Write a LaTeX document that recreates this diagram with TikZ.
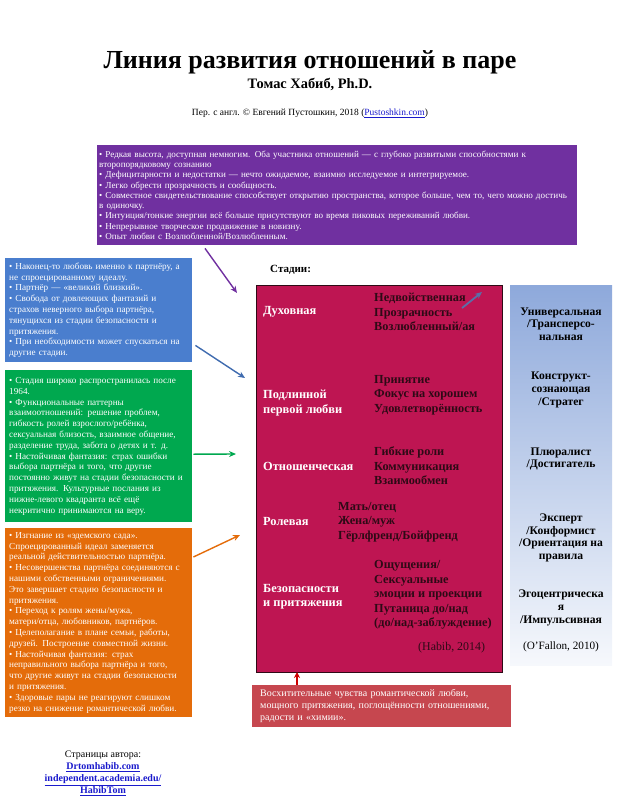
\documentclass[tikz,border=0pt]{standalone}
\usepackage{fontspec}
\setmainfont{Liberation Serif}
\usetikzlibrary{arrows.meta}

\definecolor{spiritpurple}{HTML}{7030A0}
\definecolor{lovblue}{HTML}{4A7ECE}
\definecolor{relgreen}{HTML}{00A84F}
\definecolor{roleorange}{HTML}{E46C0A}
\definecolor{stagered}{HTML}{BE1552}
\definecolor{stagedark}{HTML}{2E0A16}
\definecolor{romred}{HTML}{C6474F}
\definecolor{levelblue}{HTML}{8EA9DB}
\definecolor{linkblue}{HTML}{1A1ACC}
\definecolor{tipblue}{HTML}{5A6FA8}

\begin{document}
\begin{tikzpicture}[x=1pt,y=-1pt,>=Stealth,
  infobox/.style={anchor=north west,inner sep=4pt,text=white,align=left,
    font=\fontsize{9.2}{10.8}\selectfont},
  stagelabel/.style={anchor=west,inner sep=0pt,text=white,align=left,
    font=\bfseries\fontsize{12.4}{14.5}\selectfont},
  stagetext/.style={anchor=west,inner sep=0pt,text=stagedark,align=left,
    font=\bfseries\fontsize{12.3}{14.5}\selectfont},
  levellabel/.style={align=center,font=\bfseries\fontsize{11.6}{12.6}\selectfont},
  linkarrow/.style={-{Stealth[length=7pt,width=6pt]},line width=1.4pt}]
\useasboundingbox (0,0) rectangle (620,800);

% title
\node (title) at (310,62) {\bfseries\fontsize{26}{30}\selectfont Линия развития отношений в паре};
\node (author) at (310,84) {\bfseries\fontsize{14.4}{16}\selectfont Томас Хабиб, Ph.D.};
\node (transl) at (310,113) {\fontsize{9.5}{11}\selectfont Пер. с англ. © Евгений Пустошкин, 2018 (\textcolor{linkblue}{\underline{Pustoshkin.com}})};

% descriptive boxes
\node[infobox,fill=spiritpurple,inner xsep=2pt,text width=476pt,minimum height=100pt,
  font=\fontsize{9.1}{10.3}\selectfont] (spiritbox) at (97,145) {%
• Редкая высота, доступная немногим. Оба участника отношений — с глубоко развитыми способностями к\\
второпорядковому сознанию\\
• Дефицитарности и недостатки — нечто ожидаемое, взаимно исследуемое и интегрируемое.\\
• Легко обрести прозрачность и сообщность.\\
• Совместное свидетельствование способствует открытию пространства, которое больше, чем то, чего можно достичь\\
в одиночку.\\
• Интуиция/тонкие энергии всё больше присутствуют во время пиковых переживаний любви.\\
• Непрерывное творческое продвижение в новизну.\\
• Опыт любви с Возлюбленной/Возлюбленным.};

\node[infobox,fill=lovblue,text width=179pt,minimum height=104pt] (firstbox) at (5,258) {%
• Наконец-то любовь именно к партнёру, а\\
не спроецированному идеалу.\\
• Партнёр — «великий близкий».\\
• Свобода от довлеющих фантазий и\\
страхов неверного выбора партнёра,\\
тянущихся из стадии безопасности и\\
притяжения.\\
• При необходимости может спускаться на\\
другие стадии.};

\node[infobox,fill=relgreen,text width=179pt,minimum height=152pt] (relbox) at (5,370) {%
• Стадия широко распространилась после\\
1964.\\
• Функциональные паттерны\\
взаимоотношений: решение проблем,\\
гибкость ролей взрослого/ребёнка,\\
сексуальная близость, взаимное общение,\\
разделение труда, забота о детях и т. д.\\
• Настойчивая фантазия: страх ошибки\\
выбора партнёра и того, что другие\\
постоянно живут на стадии безопасности и\\
притяжения. Культурные послания из\\
нижне-левого квадранта всё ещё\\
некритично принимаются на веру.};

\node[infobox,fill=roleorange,text width=179pt,minimum height=187pt] (rolebox) at (5,528) {%
• Изгнание из «эдемского сада».\\
Спроецированный идеал заменяется\\
реальной действительностью партнёра.\\
• Несовершенства партнёра соединяются с\\
нашими собственными ограничениями.\\
Это завершает стадию безопасности и\\
притяжения.\\
• Переход к ролям жены/мужа,\\
матери/отца, любовников, партнёров.\\
• Целеполагание в плане семьи, работы,\\
друзей. Построение совместной жизни.\\
• Настойчивая фантазия: страх\\
неправильного выбора партнёра и того,\\
что другие живут на стадии безопасности\\
и притяжения.\\
• Здоровые пары не реагируют слишком\\
резко на снижение романтической любви.};

\node[infobox,fill=romred,inner xsep=8pt,text width=243pt,minimum height=42pt,
  font=\fontsize{10}{12}\selectfont] (romancebox) at (252,685) {%
Восхитительные чувства романтической любви,\\
мощного притяжения, поглощённости отношениями,\\
радости и «химии».};

% stages
\node[anchor=west,inner sep=0pt,font=\bfseries\fontsize{11}{13}\selectfont] (stagehead) at (270,270) {Стадии:};
\node[draw=stagedark,fill=stagered,anchor=north west,minimum width=246pt,minimum height=387pt,inner sep=0pt] (stages) at (256,285) {};

\node[stagelabel] (spirit) at (263,312) {Духовная};
\node[stagelabel] (first) at (263,403) {Подлинной\\первой любви};
\node[stagelabel] (rel) at (263,466) {Отношенческая};
\node[stagelabel] (role) at (263,521) {Ролевая};
\node[stagelabel] (safe) at (263,597) {Безопасности\\и притяжения};

\node[stagetext] (spirittxt) at (374,312) {Недвойственная\\Прозрачность\\Возлюбленный/ая};
\node[stagetext] (firsttxt) at (374,395) {Принятие\\Фокус на хорошем\\Удовлетворённость};
\node[stagetext] (reltxt) at (374,466) {Гибкие роли\\Коммуникация\\Взаимообмен};
\node[stagetext] (roletxt) at (338,522) {Мать/отец\\Жена/муж\\Гёрлфренд/Бойфренд};
\node[stagetext] (safetxt) at (374,595) {Ощущения/\\Сексуальные\\эмоции и проекции\\Путаница до/над\\(до/над-заблуждение)};
\node[anchor=west,inner sep=0pt,text=stagedark,font=\fontsize{11.9}{13}\selectfont] (habib) at (418,648) {(Habib, 2014)};

% levels
\node[anchor=north west,minimum width=102pt,minimum height=380pt,inner sep=0pt,
  top color=levelblue,bottom color=levelblue!8] (levels) at (510,285) {};
\node[levellabel] (lvuniv) at (561,324) {Универсальная\\/Трансперсо-\\нальная};
\node[levellabel] (lvconst) at (561,390) {Конструкт-\\сознающая\\/Стратег};
\node[levellabel] (lvplur) at (561,459) {Плюралист\\/Достигатель};
\node[levellabel] (lvexp) at (561,538) {Эксперт\\/Конформист\\/Ориентация на\\правила};
\node[levellabel] (lvego) at (561,608) {Эгоцентрическа\\я\\/Импульсивная};
\node[font=\fontsize{11.2}{13}\selectfont] (ofallon) at (561,647) {(O’Fallon, 2010)};

% arrows
\coordinate (tipspirit) at (237,293);
\coordinate (tipfirst) at (245,378);
\coordinate (tiprel) at (236,454);
\coordinate (tiprole) at (240,535);
\coordinate (risefrom) at (462,308);
\coordinate (riseto) at (482,292);
\draw[linkarrow,spiritpurple] (spiritbox.south west) ++(108,3) -- (tipspirit);
\draw[linkarrow,lovblue!85!black] (firstbox.south east) ++(3,-17) -- (tipfirst);
\draw[linkarrow,relgreen] (relbox.east) ++(1,8) -- (tiprel);
\draw[linkarrow,roleorange] (rolebox.north east) ++(1,29) -- (tiprole);
\draw[linkarrow,tipblue,line width=1.8pt] (risefrom) -- (riseto);
\draw[-{Stealth[length=6pt,width=6pt]},line width=1.4pt,red!80!black] (romancebox.north west) ++(45,0) -- ++(0,-13);

% author pages
\node[align=center,font=\fontsize{10}{12}\selectfont] (pages) at (103,773) {%
Страницы автора:\\
\textcolor{linkblue}{\bfseries\underline{Drtomhabib.com}}\\
\textcolor{linkblue}{\bfseries\underline{independent.academia.edu/}}\\
\textcolor{linkblue}{\bfseries\underline{HabibTom}}};
\end{tikzpicture}
\end{document}
